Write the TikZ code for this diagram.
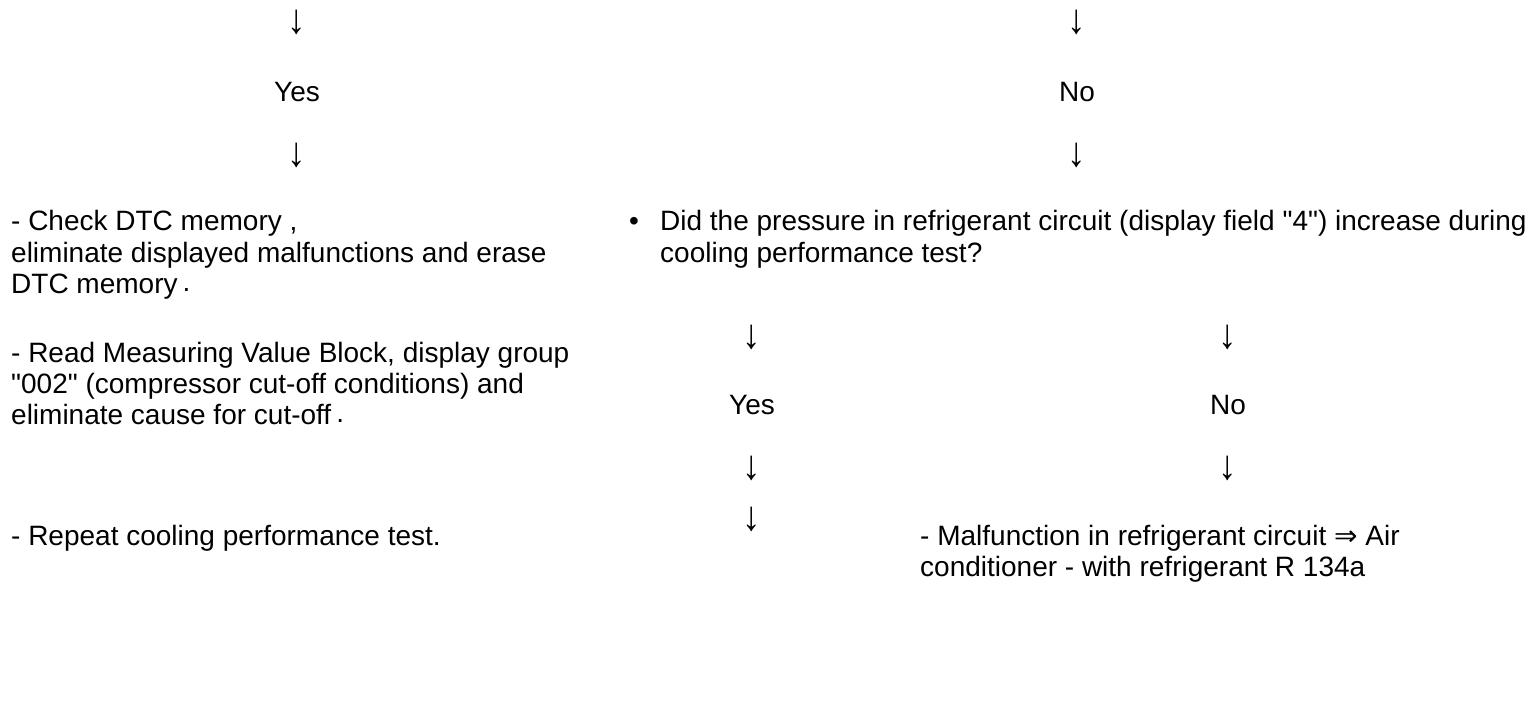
\documentclass[tikz,border=0pt]{standalone}
\usepackage{fontspec}
\usepackage{graphicx}
\setmainfont{Liberation Sans}
\newfontfamily\symfont{DejaVu Sans}
\newcommand{\lowdot}[2]{\hspace{#1}\raisebox{#2}{.}}
\newcommand{\darr}{\scalebox{1.15}[1.3]{↓}}
\tikzset{
    line/.style={anchor=base west, inner sep=0pt, font=\fontsize{28}{32}\selectfont},
    lbl/.style={anchor=base, inner sep=0pt, font=\fontsize{28}{32}\selectfont},
    down/.style={anchor=center, inner sep=0pt, font=\fontsize{32}{32}\selectfont\bfseries}
}
\begin{document}
\begin{tikzpicture}[x=1pt, y=-1pt]
        \useasboundingbox (0, 0) rectangle (1536, 704);

            %%left branch
            \node[down] (arrYa) at (297, 22){\darr};
            \node[lbl] (yesL) at (297, 101){Yes};
            \node[down] (arrYb) at (297, 155){\darr};

            \node[line] (chkA) at (11, 230){- Check DTC memory ,};
            \node[line] (chkB) at (11, 262){eliminate displayed malfunctions and erase};
            \node[line] (chkC) at (11, 293){DTC memory\lowdot{5pt}{1.5pt}};

            \node[line] (mvbA) at (11, 362){- Read Measuring Value Block, display group};
            \node[line] (mvbB) at (11, 393){\textquotedbl 002\textquotedbl\ (compressor cut-off conditions) and};
            \node[line] (mvbC) at (11, 424){eliminate cause for cut-off\lowdot{5pt}{2pt}};

            \node[line] (rpt) at (11, 545){- Repeat cooling performance test.};

            %%right branch
            \node[down] (arrNa) at (1077, 22){\darr};
            \node[lbl] (noR) at (1077, 101){No};
            \node[down] (arrNb) at (1077, 155){\darr};

            \node[line] (blt) at (629, 230){•};
            \node[line] (qsA) at (660, 230){Did the pressure in refrigerant circuit (display field \textquotedbl 4\textquotedbl) increase during};
            \node[line] (qsB) at (660, 262){cooling performance test?};

            %%pressure yes
            \node[down] (arrPa) at (752, 337){\darr};
            \node[lbl] (yesP) at (752, 414){Yes};
            \node[down] (arrPb) at (752, 468){\darr};
            \node[down] (arrPc) at (752, 519){\darr};

            %%pressure no
            \node[down] (arrQa) at (1228, 337){\darr};
            \node[lbl] (noP) at (1228, 414){No};
            \node[down] (arrQb) at (1228, 468){\darr};

            \node[line] (mlfA) at (920, 545){- Malfunction in refrigerant circuit {\symfont ⇒} Air};
            \node[line] (mlfB) at (920, 576){conditioner - with refrigerant R 134a};
        \end{tikzpicture}
\end{document}
